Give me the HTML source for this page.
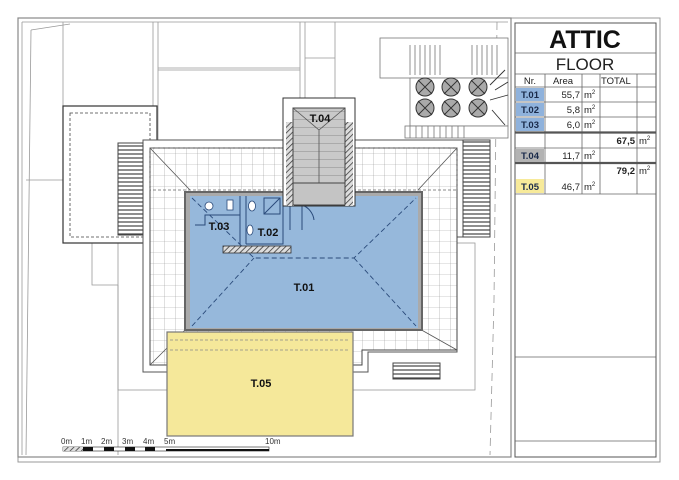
<!DOCTYPE html>
<html><head><meta charset="utf-8"><style>
html,body{margin:0;padding:0;background:#fff;}
svg{display:block;font-family:"Liberation Sans",sans-serif;}
</style></head><body>
<svg width="679" height="480" viewBox="0 0 679 480" xmlns="http://www.w3.org/2000/svg">
<defs>
<pattern id="tile" width="11" height="11" patternUnits="userSpaceOnUse">
<rect width="11" height="11" fill="#fff"/><path d="M11 0V11M0 11H11" stroke="#999" stroke-width="0.6"/>
</pattern>
<pattern id="hatch" width="4" height="4" patternUnits="userSpaceOnUse" patternTransform="rotate(45)">
<rect width="4" height="4" fill="#ddd"/><path d="M0 0V4" stroke="#333" stroke-width="1.5"/>
</pattern>
<pattern id="louv" width="10" height="4" patternUnits="userSpaceOnUse">
<rect width="10" height="4" fill="#fff"/><path d="M0 2H10" stroke="#444" stroke-width="1.2"/>
</pattern>
<pattern id="stair" width="52" height="8" patternUnits="userSpaceOnUse">
<rect width="52" height="8" fill="#c9c9c9"/><path d="M0 8H52" stroke="#777" stroke-width="0.7"/>
</pattern>
</defs>
<rect x="18" y="18" width="642" height="444" fill="none" stroke="#999" stroke-width="1"/>
<rect x="18" y="18" width="493" height="439" fill="none" stroke="#888" stroke-width="1.2"/>
<g stroke="#999" fill="none" stroke-width="0.8">
<path d="M22 22H508M22 22V455"/>
<path d="M31 30L70 24M31 30L26 455"/>
<path d="M63 22V106M153 22V140M158 22V140M300 22V98M305 22V98M158 68H300M158 70H300"/>
<path d="M305 58H335V98M335 22V98"/>
<path d="M26 180H63"/>
<rect x="118" y="243" width="357" height="147"/>
<path d="M92 243V285H118"/>
<path d="M118 285V455"/>
<path d="M497 22L494 300L490 455" stroke-dasharray="8 5"/>
</g>
<rect x="63" y="106" width="94" height="137" fill="#fff" stroke="#333" stroke-width="1.2"/>
<rect x="70" y="113" width="80" height="124" fill="none" stroke="#444" stroke-width="0.8" stroke-dasharray="3 2"/>
<g stroke="#777" fill="#fff" stroke-width="0.8">
<rect x="380" y="38" width="128" height="40"/>
<path d="M410 45V75M415 45V75M420 45V75M425 45V75M430 45V75M435 45V75M440 45V75M472 45V75M477 45V75M482 45V75M487 45V75M492 45V75M497 45V75"/>
<rect x="410" y="78" width="98" height="48"/>
<rect x="405" y="126" width="103" height="12"/>
<path d="M410 126V138M416 126V138M422 126V138M428 126V138M434 126V138M440 126V138M446 126V138M452 126V138M458 126V138M464 126V138"/>
</g>
<g fill="#aaa" stroke="#333" stroke-width="1">
<circle cx="425" cy="87" r="9"/><circle cx="451" cy="87" r="9"/><circle cx="478" cy="87" r="9"/>
<circle cx="425" cy="108" r="9"/><circle cx="451" cy="108" r="9"/><circle cx="478" cy="108" r="9"/>
</g>
<g stroke="#333" stroke-width="0.9">
<path d="M418 80L432 94M432 80L418 94M444 80L458 94M458 80L444 94M471 80L485 94M485 80L471 94M418 101L432 115M432 101L418 115M444 101L458 115M458 101L444 115M471 101L485 115M485 101L471 115"/>
<path d="M490 85L505 70M490 100L508 95M492 110L505 125M495 90L508 82" fill="none"/>
</g>
<path d="M143 140H468V237H457V352H368V372H143Z" fill="#fff" stroke="#555" stroke-width="1"/>
<path d="M150 148H457V350H362V365H150Z" fill="url(#tile)" stroke="#444" stroke-width="1"/>
<path d="M150 148L190 190M457 148L418 190M150 365L185 330M457 350L418 328" stroke="#555" stroke-width="0.8"/>
<rect x="150" y="148" width="307" height="42" fill="none" stroke="#666" stroke-dasharray="3 2" stroke-width="0.7"/>
<rect x="118" y="143" width="25" height="92" fill="url(#louv)" stroke="#444" stroke-width="1"/>
<rect x="463" y="140" width="27" height="97" fill="url(#louv)" stroke="#444" stroke-width="1"/>
<rect x="393" y="363" width="47" height="16" fill="url(#louv)" stroke="#444" stroke-width="1"/>
<rect x="184" y="191" width="239" height="140" fill="#666"/>
<rect x="186" y="193" width="235" height="136" fill="#aaa"/>
<rect x="190" y="196" width="228" height="132" fill="#96b8db"/>
<g stroke="#2a4a7a" stroke-width="0.9" stroke-dasharray="5 3" fill="none">
<path d="M192 198L254 258H354L416 198M192 326L254 258M354 258L416 326"/>
</g>
<g stroke="#2a4a7a" stroke-width="1" fill="none">
<path d="M240 196V244M246 196V244M246 244H283V205M283 205H290V230"/>
<path d="M195 225H205V215H240"/>
<rect x="264" y="198" width="16" height="16"/>
<path d="M264 214L280 198"/>
<path d="M302 205V230M302 205A18 18 0 0 1 314 220"/>
</g>
<rect x="223" y="246" width="68" height="7" fill="url(#hatch)" stroke="#333" stroke-width="0.8"/>
<g fill="#fff" stroke="#2a4a7a" stroke-width="0.8">
<circle cx="209" cy="206" r="4"/><rect x="227" y="200" width="6" height="10"/><ellipse cx="252" cy="206" rx="3.5" ry="5"/><ellipse cx="250" cy="230" rx="3" ry="5"/>
</g>
<rect x="283" y="98" width="72" height="108" fill="#fff" stroke="#333" stroke-width="1"/>
<rect x="286" y="122" width="8" height="84" fill="url(#hatch)"/>
<rect x="345" y="122" width="8" height="84" fill="url(#hatch)"/>
<rect x="293" y="108" width="52" height="75" fill="url(#stair)" stroke="#444" stroke-width="1"/>
<path d="M319 130V183M293 108L319 130L345 108" stroke="#555" stroke-width="0.8" fill="none"/>
<rect x="293" y="183" width="52" height="22" fill="#c4c4c4" stroke="#444" stroke-width="1"/>
<rect x="167" y="332" width="186" height="104" fill="#f5e89a" stroke="#777" stroke-width="1.2"/>
<path d="M170 340H350M170 350H350" stroke="#888" stroke-width="0.7" stroke-dasharray="3 2"/>
<g font-weight="bold" fill="#111" font-size="11" text-anchor="middle">
<text x="320" y="122">T.04</text>
<text x="219" y="230">T.03</text>
<text x="268" y="236">T.02</text>
<text x="304" y="291">T.01</text>
<text x="261" y="387">T.05</text>
</g>
<g font-size="8" fill="#333">
<text x="61" y="444">0m</text><text x="81" y="444">1m</text><text x="101" y="444">2m</text><text x="122" y="444">3m</text><text x="143" y="444">4m</text><text x="164" y="444">5m</text><text x="265" y="444">10m</text>
</g>
<rect x="63" y="447" width="206" height="4" fill="#fff" stroke="#222" stroke-width="0.6"/>
<rect x="63" y="447" width="20" height="4" fill="url(#hatch)"/>
<rect x="83" y="447" width="10" height="4" fill="#111"/><rect x="104" y="447" width="10" height="4" fill="#111"/><rect x="125" y="447" width="10" height="4" fill="#111"/><rect x="145" y="447" width="10" height="4" fill="#111"/>
<rect x="166" y="449" width="103" height="2" fill="#111"/>
<rect x="515" y="23" width="141" height="434" fill="#fff" stroke="#555" stroke-width="1"/>
<g stroke="#666" stroke-width="0.8">
<path d="M515 53H656M515 74H656M515 87H656M515 102H656M515 117H656M515 148H656M515 163H656M515 194H656M515 357H656M515 441H656"/>
<path d="M545 74V194M582 74V194M600 74V194M637 74V194"/>
</g>
<path d="M515 132.5H656M515 163H656" stroke="#555" stroke-width="2.2"/>
<rect x="516" y="88" width="28" height="13" fill="#8fb2dc"/>
<rect x="516" y="103" width="28" height="13" fill="#8fb2dc"/>
<rect x="516" y="118" width="28" height="13" fill="#8fb2dc"/>
<rect x="516" y="149" width="28" height="13" fill="#b3b3b3"/>
<rect x="516" y="179" width="28" height="14" fill="#f7ea9a"/>
<text x="585" y="48" font-size="25" font-weight="bold" text-anchor="middle" fill="#111">ATTIC</text>
<text x="585" y="70" font-size="17" text-anchor="middle" fill="#222">FLOOR</text>
<g font-size="9.5" fill="#222">
<text x="530" y="84" text-anchor="middle">Nr.</text>
<text x="563" y="84" text-anchor="middle">Area</text>
<text x="601" y="84">TOTAL</text>
</g>
<g font-size="9.5" font-weight="bold" fill="#1a2a4a" text-anchor="middle">
<text x="530" y="98">T.01</text><text x="530" y="113">T.02</text><text x="530" y="128">T.03</text><text x="530" y="159">T.04</text><text x="530" y="190">T.05</text>
</g>
<g font-size="9.5" fill="#222" text-anchor="end">
<text x="580" y="98">55,7</text><text x="580" y="113">5,8</text><text x="580" y="128">6,0</text><text x="580" y="159">11,7</text><text x="580" y="190">46,7</text>
<text x="635" y="144" font-weight="bold">67,5</text><text x="635" y="174" font-weight="bold">79,2</text>
</g>
<g font-size="9.5" fill="#222">
<text x="584" y="98">m<tspan font-size="6" dy="-4">2</tspan></text>
<text x="584" y="113">m<tspan font-size="6" dy="-4">2</tspan></text>
<text x="584" y="128">m<tspan font-size="6" dy="-4">2</tspan></text>
<text x="584" y="159">m<tspan font-size="6" dy="-4">2</tspan></text>
<text x="584" y="190">m<tspan font-size="6" dy="-4">2</tspan></text>
<text x="639" y="144">m<tspan font-size="6" dy="-4">2</tspan></text>
<text x="639" y="174">m<tspan font-size="6" dy="-4">2</tspan></text>
</g>
</svg>
</body></html>
